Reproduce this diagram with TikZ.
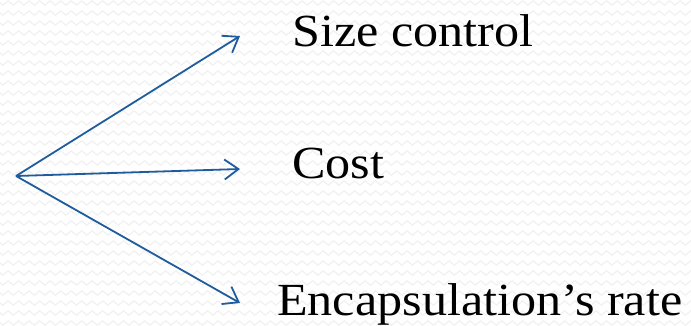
\documentclass[tikz,border=0pt]{standalone}
\usepackage{fontspec}
\setmainfont{Liberation Serif}[FakeStretch=1.09]
\usetikzlibrary{arrows.meta,decorations.pathmorphing}
\definecolor{arrowblue}{HTML}{1F5C9E}
\definecolor{wave}{HTML}{F1F1F1}
\tikzset{
  branch/.style={draw=arrowblue, line width=1.8pt,
    -{Straight Barb[length=14pt,width=20pt,line width=1.8pt]}},
  label/.style={anchor=base west, inner sep=0pt, font=\fontsize{46}{50}\selectfont},
}
\begin{document}
\begin{tikzpicture}[x=1pt,y=-1pt]
  % page and faint zigzag texture
  \fill[white] (0,0) rectangle (691,325);
  \useasboundingbox (0,0) rectangle (691,325);
  \foreach \r in {0,10,...,330}{
    \draw[wave, line width=1.2pt, decorate,
      decoration={zigzag, segment length=10.5pt, amplitude=2.2pt}]
      (-5,\r+3) -- (700,\r+3);
  }
  % origin and targets
  \coordinate (src) at (16,176);
  \coordinate (t1) at (240,36);
  \coordinate (t2) at (240,169);
  \coordinate (t3) at (240,303);
  \draw[branch] (src) -- (t1);
  \draw[branch] (src) -- (t2);
  \draw[branch] (src) -- (t3);
  % labels
  \node[label] (l1) at (292,46) {Size control};
  \node[label] (l2) at (292,178) {Cost};
  \node[label] (l3) at (277,315) {Encapsulation’s rate};
\end{tikzpicture}
\end{document}
